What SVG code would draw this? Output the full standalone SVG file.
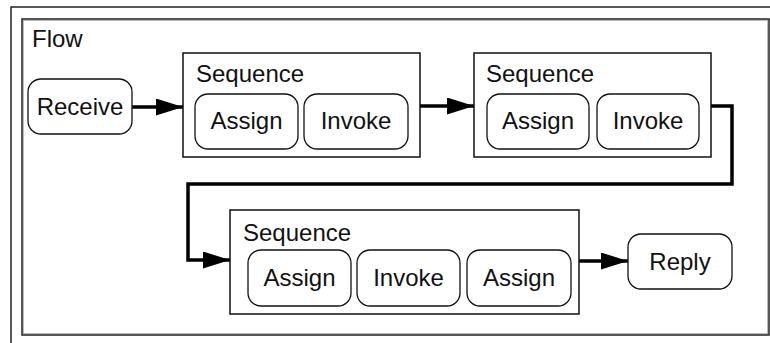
<svg xmlns="http://www.w3.org/2000/svg" width="770" height="343" viewBox="0 0 770 343">
<defs>
<style>
.frame{fill:none;stroke:#222;stroke-width:1.5}
.shadow{fill:none;stroke:#aaa;stroke-width:1}
.seq{fill:#fff;stroke:#111;stroke-width:1.5}
.act{fill:#fff;stroke:#111;stroke-width:1.3}
.t{font-family:"Liberation Sans",Arial,sans-serif;font-size:24px;fill:#111}
.c{text-anchor:middle}
.conn{fill:none;stroke:#000;stroke-width:3.5}
</style>
<marker id="ah" viewBox="0 0 27 17" refX="27" refY="8.5" markerWidth="27" markerHeight="17" markerUnits="userSpaceOnUse" orient="auto">
<path d="M0,0 L27,8.5 L0,17 Z" fill="#000"/>
</marker>
</defs>
<rect width="770" height="343" fill="#fff"/>
<rect id="outer" class="frame" x="11" y="7" width="770" height="350"/>
<g id="flow">
<rect class="shadow" x="23.3" y="20.3" width="744.4" height="313.4"/>
<rect class="frame" x="22" y="19" width="747" height="316"/>
<text class="t" x="32" y="47">Flow</text>
</g>
<g id="connectors">
<path class="conn" d="M132,107 H183" marker-end="url(#ah)"/>
<path class="conn" d="M420,106 H474" marker-end="url(#ah)"/>
<path class="conn" d="M711,106 H732 V184 H188 V260 H230" marker-end="url(#ah)"/>
<path class="conn" d="M579,261 H628" marker-end="url(#ah)"/>
</g>
<g id="receive">
<rect class="act" x="28" y="79" width="104" height="55" rx="13"/>
<text class="t c" x="80" y="115">Receive</text>
</g>
<g id="seq1">
<rect class="seq" x="183" y="53" width="237" height="104"/>
<text class="t" x="196" y="82">Sequence</text>
<g id="seq1-assign">
<rect class="act" x="195" y="94" width="103" height="55" rx="13"/>
<text class="t c" x="246.5" y="129">Assign</text>
</g>
<g id="seq1-invoke">
<rect class="act" x="304" y="94" width="104" height="55" rx="13"/>
<text class="t c" x="356" y="129">Invoke</text>
</g>
</g>
<g id="seq2">
<rect class="seq" x="474" y="53" width="237" height="104"/>
<text class="t" x="486" y="82">Sequence</text>
<g id="seq2-assign">
<rect class="act" x="487" y="94" width="102" height="55" rx="13"/>
<text class="t c" x="538" y="129">Assign</text>
</g>
<g id="seq2-invoke">
<rect class="act" x="597" y="94" width="102" height="55" rx="13"/>
<text class="t c" x="648" y="129">Invoke</text>
</g>
</g>
<g id="seq3">
<rect class="seq" x="230" y="210" width="349" height="104"/>
<text class="t" x="243" y="241">Sequence</text>
<g id="seq3-assign1">
<rect class="act" x="248" y="250" width="103" height="56" rx="13"/>
<text class="t c" x="299.5" y="286">Assign</text>
</g>
<g id="seq3-invoke">
<rect class="act" x="357" y="250" width="103" height="56" rx="13"/>
<text class="t c" x="408.5" y="286">Invoke</text>
</g>
<g id="seq3-assign2">
<rect class="act" x="467" y="250" width="104" height="56" rx="13"/>
<text class="t c" x="519" y="286">Assign</text>
</g>
</g>
<g id="reply">
<rect class="act" x="628" y="234" width="104" height="55" rx="13"/>
<text class="t c" x="680" y="270">Reply</text>
</g>
</svg>
